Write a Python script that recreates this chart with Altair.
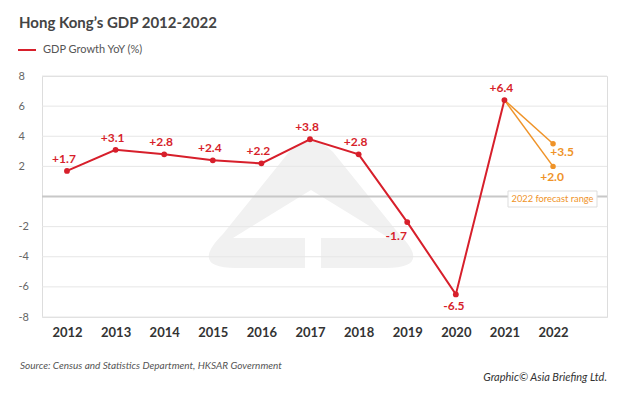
import altair as alt
import pandas as pd

years = [2012, 2013, 2014, 2015, 2016, 2017, 2018, 2019, 2020, 2021]
growth = [1.7, 3.1, 2.8, 2.4, 2.2, 3.8, 2.8, -1.7, -6.5, 6.4]
forecast_year = 2022
forecast_vals = [3.5, 2.0]
axis_years = list(range(2012, 2023))
y_ticks = [-8, -6, -4, -2, 2, 4, 6, 8]

RED = "#D71F2B"
ORANGE = "#EF9328"
FONT = "Lato"

main = pd.DataFrame({"year": years, "val": growth})
main["label"] = [f"{v:+.1f}" for v in growth]
main["pos"] = ["above"] * 7 + ["m17", "m65", "above"]

fc_rows = []
for i, v in enumerate(forecast_vals):
    fc_rows.append({"year": years[-1], "val": growth[-1], "s": f"f{i}"})
    fc_rows.append({"year": forecast_year, "val": v, "s": f"f{i}"})
fc = pd.DataFrame(fc_rows)
fc_pts = pd.DataFrame({"year": [forecast_year] * 2, "val": forecast_vals,
                       "label": [f"{v:+.1f}" for v in forecast_vals],
                       "pos": ["hi", "lo"]})
grid = pd.DataFrame({"val": y_ticks})
zero = pd.DataFrame({"val": [0]})

xs = alt.Scale(domain=[2011.486, 2023.11], nice=False, zero=False)
ys = alt.Scale(domain=[-8, 8], nice=False)
X = alt.X("year:Q", scale=xs,
          axis=alt.Axis(values=axis_years, format="d", title=None, grid=False,
                        domain=False, ticks=False, labelFont=FONT, labelFontSize=13,
                        labelFontWeight="bold", labelColor="#333", labelPadding=9))
Y = alt.Y("val:Q", scale=ys,
          axis=alt.Axis(values=y_ticks, title=None, grid=False, domain=False,
                        ticks=False, labelFont=FONT, labelFontSize=11,
                        labelColor="#666", labelAlign="left", labelPadding=24,
                        labelOverlap=False, labelExpr="'' + datum.value"))

# watermark logo (decoration)
R = 136.0
def u(p):
    return f"{p[0]/R:.4f},{p[1]/R:.4f}"
outer = ("M" + u((-22, -48)) + "Q" + u((0, -70)) + " " + u((22, -48)) +
         "L" + u((88, 34)) + "Q" + u((122, 68)) + " " + u((75, 68)) +
         "L" + u((-75, 68)) + "Q" + u((-122, 68)) + " " + u((-88, 34)) + "Z")
inner = "M" + u((0, -10)) + "L" + u((78, 38)) + "L" + u((-78, 38)) + "Z"
stem = "M" + u((-6, 30)) + "L" + u((10, 30)) + "L" + u((10, 72)) + "L" + u((-6, 72)) + "Z"
cx, cy = 311 - 42, 200 - 76
size = (2 * R) ** 2
wm1 = alt.Chart(zero).mark_point(shape=outer, filled=True, fill="#f1f1f1",
                                 strokeWidth=0, opacity=1, size=size).encode(
    x=alt.value(cx), y=alt.value(cy))
wm2 = alt.Chart(zero).mark_point(shape=inner, filled=True, fill="white",
                                 strokeWidth=0, opacity=1, size=size).encode(
    x=alt.value(cx), y=alt.value(cy))
wm3 = alt.Chart(zero).mark_point(shape=stem, filled=True, fill="white",
                                 strokeWidth=0, opacity=1, size=size).encode(
    x=alt.value(cx), y=alt.value(cy))

grid_l = alt.Chart(grid).mark_rule(color="#e6e6e6", strokeWidth=1).encode(y=Y)
zero_l = alt.Chart(zero).mark_rule(color="#c8c8c8", strokeWidth=2).encode(y=Y)

fc_line = alt.Chart(fc).mark_line(color=ORANGE, strokeWidth=1.5).encode(
    x=X, y=Y, detail="s:N")
fc_pt = alt.Chart(fc_pts).mark_circle(color=ORANGE, size=30, opacity=1).encode(x=X, y=Y)

line = alt.Chart(main).mark_line(color=RED, strokeWidth=2).encode(x=X, y=Y)
pts = alt.Chart(main).mark_circle(color=RED, size=34, opacity=1).encode(x=X, y=Y)

def lab(df, pos, color, **kw):
    return alt.Chart(df).transform_filter(alt.datum.pos == pos).mark_text(
        font=FONT, fontSize=12, fontWeight="bold", color=color, **kw).encode(
        x=X, y=Y, text="label:N")

labels = [
    lab(main, "above", RED, dx=-3, dy=-12, baseline="middle"),
    lab(main, "m17", RED, dx=-11, dy=14, baseline="middle"),
    lab(main, "m65", RED, dx=-2, dy=12, baseline="middle"),
    lab(fc_pts, "hi", ORANGE, dx=9, dy=8, baseline="middle"),
    lab(fc_pts, "lo", ORANGE, dx=-1, dy=11, baseline="middle"),
]

box = alt.Chart(zero).mark_rect(fill="white", stroke="#dddddd", strokeWidth=1).encode(
    x=alt.value(466), x2=alt.value(555), y=alt.value(115), y2=alt.value(131))
box_t = alt.Chart(zero).mark_text(text="2022 forecast range", font=FONT, fontSize=9.3,
                                  color=ORANGE, baseline="middle").encode(
    x=alt.value(510.5), y=alt.value(123))

title = alt.Chart(zero).mark_text(text="Hong Kong\u2019s GDP 2012-2022", font=FONT,
                                  fontSize=15, fontWeight="bold", color="#444",
                                  align="left", baseline="middle").encode(
    x=alt.value(-23), y=alt.value(-53))
leg_line = alt.Chart(zero).mark_rule(color=RED, strokeWidth=2).encode(
    x=alt.value(-24), x2=alt.value(-6), y=alt.value(-26))
leg_t = alt.Chart(zero).mark_text(text="GDP Growth YoY (%)", font=FONT, fontSize=11,
                                  color="#555", align="left", baseline="middle").encode(
    x=alt.value(1), y=alt.value(-26))
src = alt.Chart(zero).mark_text(text="Source: Census and Statistics Department, HKSAR Government",
                                font=FONT, fontSize=10, fontStyle="italic", color="#555",
                                align="left", baseline="middle").encode(
    x=alt.value(-22), y=alt.value(290))
cred = alt.Chart(zero).mark_text(text="Graphic\u00a9 Asia Briefing Ltd.", font=FONT,
                                 fontSize=11, fontStyle="italic", color="#333",
                                 align="right", baseline="middle").encode(
    x=alt.value(565), y=alt.value(302))

chart = alt.layer(wm1, wm2, wm3, grid_l, zero_l, fc_line, line, fc_pt, pts, *labels,
                  box, box_t, title, leg_line, leg_t, src, cred).properties(
    width=565, height=241,
    autosize=alt.AutoSizeParams(type="none"),
    padding={"left": 34, "top": 68, "right": 9, "bottom": 70},
).configure_view(stroke=None).configure(background="white")

chart.save("out.html", embed_options={"renderer": "svg", "actions": False})
